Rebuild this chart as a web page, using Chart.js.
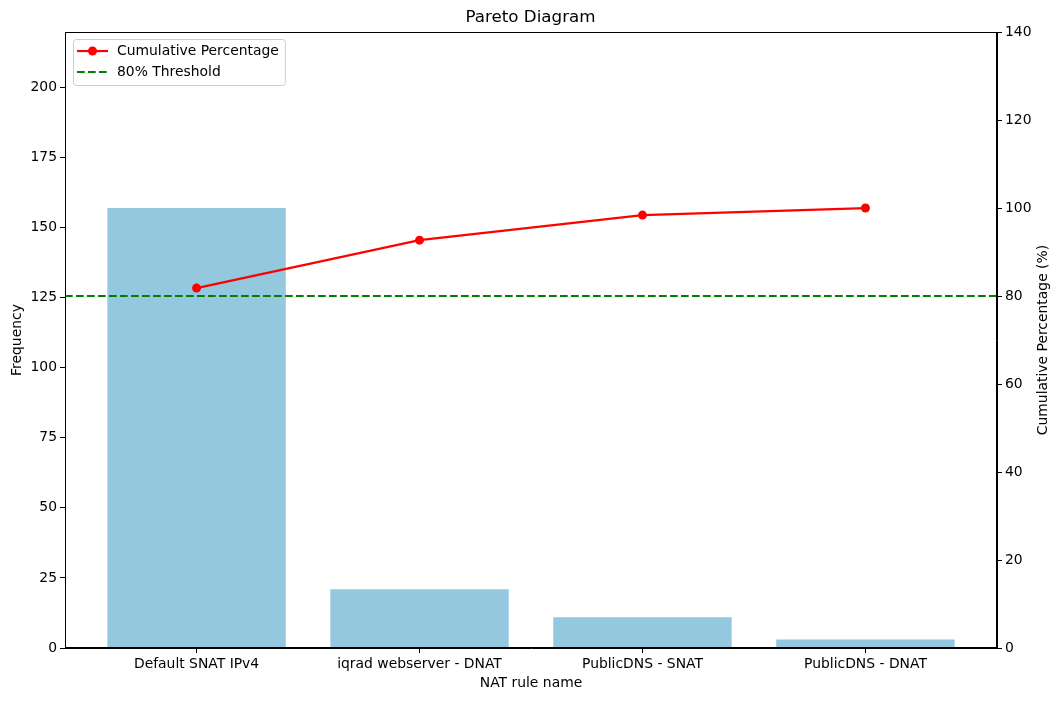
<!DOCTYPE html>
<html>
<head>
<meta charset="utf-8">
<title>Pareto Diagram</title>
<script src="https://cdn.jsdelivr.net/npm/chart.js@4.4.1/dist/chart.umd.min.js"></script>
<style>
  html, body { margin: 0; padding: 0; background: #fff; }
  #wrap { width: 1061px; height: 701px; }
</style>
</head>
<body>
<div id="wrap"><canvas id="chart"></canvas></div>
<script>
// data
const categories = ["Default SNAT IPv4", "iqrad webserver - DNAT", "PublicDNS - SNAT", "PublicDNS - DNAT"];
const frequency = [157, 21, 11, 3];
const cumulativePct = [81.8, 92.7, 98.4, 100];
const thresholdPct = 80;
const freqMax = 219.8;
const freqStep = 25;
const pctMax = 140;
const pctStep = 20;
const xMin = -0.59;
const xMax = 3.59;
const rightTitle = "Cumulative Percentage (%)";

const FONT = "'DejaVu Sans', sans-serif";
const tickFont = { family: FONT, size: 13.9 };

// fixed axis sizes so the plot box lands where the reference has it
const fixWidth = (w) => (scale) => { scale.width = w; };
const fixHeight = (h) => (scale) => { scale.height = h; };

// matplotlib-like frame round the plot area
const frame = {
  id: "frame",
  afterDatasetsDraw(chart) {
    const { ctx, chartArea: a } = chart;
    ctx.save();
    ctx.strokeStyle = "#000";
    ctx.lineWidth = 1;
    ctx.strokeRect(Math.round(a.left) + 0.5, Math.round(a.top) + 0.5,
      Math.round(a.right - a.left) - 1, Math.round(a.bottom - a.top) - 1);
    ctx.restore();
  }
};

// right axis title reads bottom-to-top like the left one
const rightAxisTitle = {
  id: "rightAxisTitle",
  afterDraw(chart) {
    const { ctx } = chart;
    const s = chart.scales.y1;
    ctx.save();
    ctx.font = `13.9px ${FONT}`;
    ctx.fillStyle = "#000";
    ctx.textAlign = "center";
    ctx.textBaseline = "middle";
    ctx.translate(s.right - 18, (s.top + s.bottom) / 2);
    ctx.rotate(-Math.PI / 2);
    ctx.fillText(rightTitle, 0, 0);
    ctx.restore();
  }
};

// legend drawn inside the axes, upper left
const insideLegend = {
  id: "insideLegend",
  afterDraw(chart) {
    const { ctx, chartArea: a } = chart;
    const items = chart.data.datasets.filter((d) => d.type === "line");
    ctx.save();
    ctx.font = `13.9px ${FONT}`;
    const textW = Math.max(...items.map((d) => ctx.measureText(d.label).width));
    const x = a.left + 8, y = a.top + 7;
    const w = 44 + textW + 6, h = 46;
    ctx.fillStyle = "rgba(255,255,255,0.8)";
    ctx.strokeStyle = "#cccccc";
    ctx.lineWidth = 1;
    ctx.beginPath();
    ctx.roundRect(x + 0.5, y + 0.5, w, h, 3);
    ctx.fill();
    ctx.stroke();
    items.forEach((ds, i) => {
      const cy = y + 12 + i * 21;
      ctx.strokeStyle = ds.borderColor;
      ctx.lineWidth = ds.borderWidth;
      ctx.setLineDash(ds.borderDash || []);
      ctx.beginPath();
      ctx.moveTo(x + 4, cy);
      ctx.lineTo(x + 35, cy);
      ctx.stroke();
      ctx.setLineDash([]);
      if (ds.pointRadius > 0) {
        ctx.fillStyle = ds.pointBackgroundColor;
        ctx.beginPath();
        ctx.arc(x + 19.5, cy, ds.pointRadius, 0, Math.PI * 2);
        ctx.fill();
      }
      ctx.fillStyle = "#000";
      ctx.textBaseline = "middle";
      ctx.fillText(ds.label, x + 44, cy);
    });
    ctx.restore();
  }
};

new Chart(document.getElementById("chart"), {
  type: "bar",
  data: {
    datasets: [
      {
        type: "line",
        label: "Cumulative Percentage",
        data: cumulativePct.map((v, i) => ({ x: i, y: v })),
        yAxisID: "y1",
        borderColor: "#ff0000",
        backgroundColor: "#ff0000",
        borderWidth: 2.2,
        pointRadius: 4.5,
        pointBackgroundColor: "#ff0000",
        pointBorderWidth: 0,
        tension: 0,
        order: 0
      },
      {
        type: "line",
        label: "80% Threshold",
        data: [{ x: xMin, y: thresholdPct }, { x: xMax, y: thresholdPct }],
        yAxisID: "y1",
        borderColor: "#008000",
        borderWidth: 2.1,
        borderDash: [7.7, 3.3],
        pointRadius: 0,
        order: 1
      },
      {
        type: "bar",
        label: "Frequency",
        data: frequency.map((v, i) => ({ x: i, y: v })),
        yAxisID: "y",
        backgroundColor: "#93c8de",
        barPercentage: 0.8,
        categoryPercentage: 1,
        order: 2
      }
    ]
  },
  options: {
    responsive: true,
    maintainAspectRatio: false,
    animation: false,
    layout: { padding: 0 },
    plugins: {
      legend: { display: false },
      tooltip: { enabled: false },
      title: {
        display: true,
        text: "Pareto Diagram",
        color: "#000",
        font: { family: FONT, size: 16.7, weight: "normal" },
        padding: { top: 8, bottom: 4 }
      }
    },
    scales: {
      x: {
        type: "linear",
        min: xMin,
        max: xMax,
        offset: false,
        afterBuildTicks: (scale) => { scale.ticks = categories.map((c, i) => ({ value: i })); },
        afterFit: fixHeight(53),
        grid: { drawOnChartArea: false, drawTicks: true, tickLength: 5, color: "#000", offset: false },
        border: { display: true, color: "#000", width: 1 },
        ticks: {
          color: "#000",
          font: tickFont,
          padding: 3,
          maxRotation: 0,
          autoSkip: false,
          callback: (v) => categories[v] ?? ""
        },
        title: {
          display: true,
          text: "NAT rule name",
          color: "#000",
          font: tickFont,
          padding: { top: 0, bottom: 9 }
        }
      },
      y: {
        position: "left",
        min: 0,
        max: freqMax,
        afterBuildTicks: (scale) => { scale.ticks = scale.ticks.filter((t) => t.value % freqStep === 0); },
        afterFit: fixWidth(65),
        grid: { drawOnChartArea: false, drawTicks: true, tickLength: 5, color: "#000" },
        border: { display: true, color: "#000", width: 1 },
        ticks: { stepSize: freqStep, color: "#000", font: tickFont, padding: 3 },
        title: {
          display: true,
          text: "Frequency",
          color: "#000",
          font: tickFont,
          padding: { top: 9, bottom: 0 }
        }
      },
      y1: {
        position: "right",
        min: 0,
        max: pctMax,
        afterFit: fixWidth(64),
        grid: { drawOnChartArea: false, drawTicks: true, tickLength: 5, color: "#000" },
        border: { display: true, color: "#000", width: 1 },
        ticks: { stepSize: pctStep, color: "#000", font: tickFont, padding: 3 },
        title: { display: false }
      }
    }
  },
  plugins: [frame, rightAxisTitle, insideLegend]
});
</script>
</body>
</html>
